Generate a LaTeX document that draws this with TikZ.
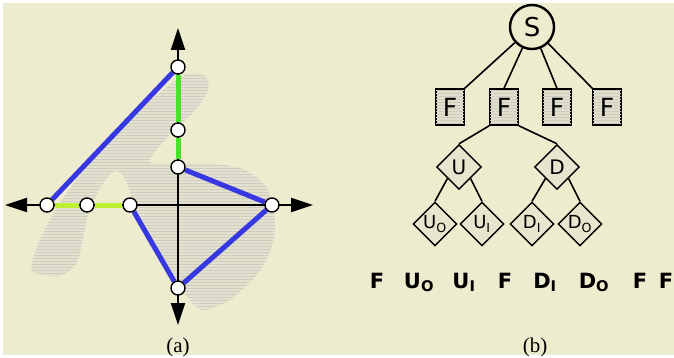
\documentclass[tikz,border=0pt]{standalone}
\usepackage{fontspec}
\setmainfont{DejaVu Sans}
\newfontfamily\capfont{Liberation Serif}
\usetikzlibrary{arrows.meta, positioning, shapes.geometric, patterns, backgrounds}
\definecolor{paperCream}{RGB}{237,236,206}
\definecolor{strokeGray}{RGB}{227,225,207}
\definecolor{hatchGray}{RGB}{207,205,189}
\definecolor{boxGray}{RGB}{224,222,204}
\definecolor{linkBlue}{RGB}{56,56,226}
\definecolor{linkGreen}{RGB}{72,226,40}
\definecolor{linkLime}{RGB}{188,240,52}
\tikzset{
    vertex/.style={
        circle,
        draw=black,
        fill=white,
        line width=1.4pt,
        minimum size=14pt,
        inner sep=0pt
    },
    axisline/.style={line width=2pt, {Triangle[length=22pt,width=14pt]}-{Triangle[length=22pt,width=14pt]}},
    bluelink/.style={line width=5pt, draw=linkBlue},
    greenlink/.style={line width=5pt, draw=linkGreen},
    limelink/.style={line width=5pt, draw=linkLime},
    hatched/.style={postaction={pattern=horizontal lines, pattern color=hatchGray}},
    rootnode/.style={
        circle,
        draw=black,
        line width=2.4pt,
        minimum size=44pt,
        inner sep=0pt,
        font=\fontsize{26}{26}\selectfont
    },
    fnode/.style={
        rectangle,
        draw=black,
        line width=1.4pt,
        fill=boxGray,
        hatched,
        minimum width=28pt,
        minimum height=36pt,
        inner sep=0pt,
        font=\fontsize{25}{25}\selectfont
    },
    splitnode/.style={
        diamond,
        aspect=1,
        draw=black,
        line width=1.4pt,
        fill=boxGray!50!paperCream,
        minimum size=45pt,
        inner sep=0pt,
        font=\fontsize{20}{20}\selectfont
    },
    leafnode/.style={splitnode, minimum size=44pt, font=\fontsize{18}{18}\selectfont},
    treeedge/.style={line width=1.6pt, draw=black},
    seqitem/.style={anchor=base, inner sep=0pt, font=\bfseries\fontsize{21}{21}\selectfont},
    caption/.style={anchor=base, inner sep=0pt, font=\capfont\fontsize{21}{21}\selectfont}
}

\begin{document}
\begin{tikzpicture}[x=1pt, y=-1pt, node distance=0.5cm and 0.25cm]
    \useasboundingbox (0,0) rectangle (674,358);

    % (a) polygon vertices
    \node[vertex] (yt) at (178,67) {};
    \node[vertex] (ym) at (178,130) {};
    \node[vertex] (yb) at (178,167) {};
    \node[vertex] (xr) at (272,205) {};
    \node[vertex] (ybot) at (178,288) {};
    \node[vertex] (xl) at (47,205) {};
    \node[vertex] (xm) at (87,205) {};
    \node[vertex] (xi) at (130,205) {};

    \coordinate (left) at (5,205);
    \coordinate (right) at (313,205);
    \coordinate (top) at (178,28);
    \coordinate (bottom) at (178,325);

    \begin{scope}[on background layer]
        \fill[paperCream] (3,3) rectangle (674,355);

        % stroke behind the polygon
        \fill[strokeGray, hatched] plot[smooth cycle, tension=0.5] coordinates {
            (32,270) (40,240) (62,200) (100,150) (145,105) (185,75) (205,76)
            (208,90) (195,110) (165,140) (150,162) (190,163) (240,168)
            (268,190) (275,230) (262,268) (232,298) (205,310) (190,300)
            (165,262) (147,240) (135,210) (126,180) (115,171) (102,185)
            (88,215) (77,262) (58,276)};

        \draw[axisline] (left) -- (right);
        \draw[axisline] (top) -- (bottom);

        \draw[bluelink] (yt) -- (xl);
        \draw[bluelink] (yb) -- (xr);
        \draw[bluelink] (xr) -- (ybot);
        \draw[bluelink] (ybot) -- (xi);
        \draw[greenlink] (yt) -- (ym);
        \draw[greenlink] (ym) -- (yb);
        \draw[limelink] (xl) -- (xm);
        \draw[limelink] (xm) -- (xi);
    \end{scope}

    % (b) tree
    \node[rootnode] (S) at (532,27) {S};
    \node[fnode] (F1) at (450,107) {F};
    \node[fnode] (F2) at (504,107) {F};
    \node[fnode] (F3) at (557,107) {F};
    \node[fnode] (F4) at (607,107) {F};
    \node[splitnode] (U) at (459,167) {U};
    \node[splitnode] (D) at (557,167) {D};
    \node[leafnode] (UO) at (435,224) {U\textsubscript{O}};
    \node[leafnode] (UI) at (482,224) {U\textsubscript{I}};
    \node[leafnode] (DI) at (532,224) {D\textsubscript{I}};
    \node[leafnode] (DO) at (580,224) {D\textsubscript{O}};

    \draw[treeedge] (S) -- (F1.north east);
    \draw[treeedge] (S) -- (F2.north);
    \draw[treeedge] (S) -- (F3.north);
    \draw[treeedge] (S) -- (F4.north west);
    \draw[treeedge] (F2.south west) -- (U.north);
    \draw[treeedge] (F2.south east) -- (D.north);
    \draw[treeedge] (U.south west) -- (UO.north);
    \draw[treeedge] (U.south east) -- (UI.north);
    \draw[treeedge] (D.south west) -- (DI.north);
    \draw[treeedge] (D.south east) -- (DO.north);

    % (b) sequence
    \node[seqitem] (s1) at (377,288) {F};
    \node[seqitem] (s2) at (419,288) {U\textsubscript{O}};
    \node[seqitem] (s3) at (464,288) {U\textsubscript{I}};
    \node[seqitem] (s4) at (505,288) {F};
    \node[seqitem] (s5) at (545,288) {D\textsubscript{I}};
    \node[seqitem] (s6) at (594,288) {D\textsubscript{O}};
    \node[seqitem] (s7) at (640,288) {F};
    \node[seqitem] (s8) at (666,288) {F};

    % captions
    \node[caption] (capa) at (178,352) {(a)};
    \node[caption] (capb) at (535,352) {(b)};
\end{tikzpicture}
\end{document}
